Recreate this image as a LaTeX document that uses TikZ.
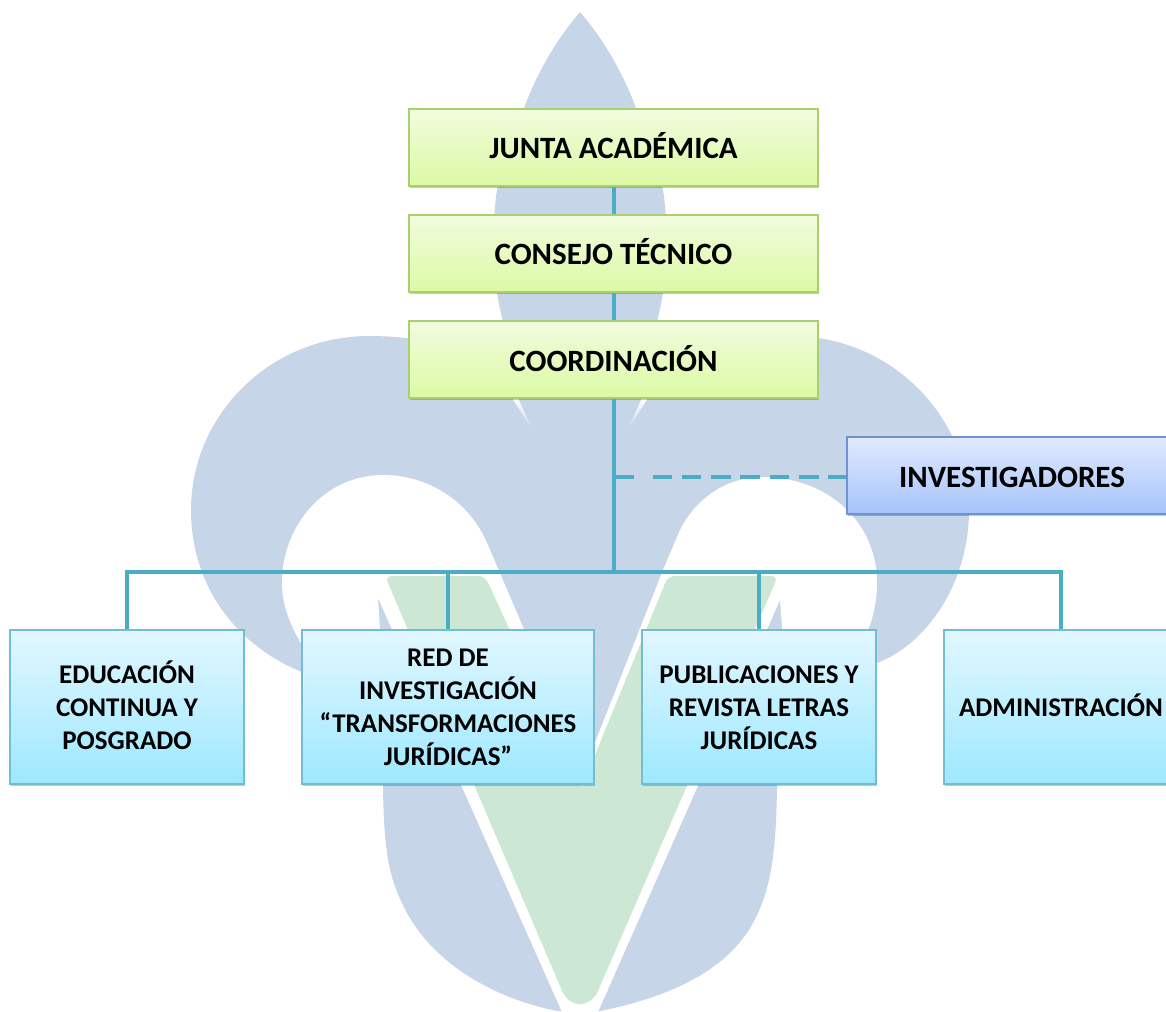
\documentclass[tikz,border=0pt]{standalone}
\usepackage{fontspec}
\setmainfont{Carlito}
\usetikzlibrary{shadows,calc}
\definecolor{logoblue}{RGB}{199,213,232}
\definecolor{logogreen}{RGB}{204,231,212}
\definecolor{linkcol}{RGB}{75,172,198}
\newcommand{\lowadj}[1]{\rule[-#1pt]{0pt}{#1pt}}
\newcommand{\highadj}[1]{\rule{0pt}{#1pt}}
\tikzset{
  box/.style={rectangle,draw,line width=1.3pt,inner sep=0pt,align=center,font=\bfseries,text=black,
    drop shadow={shadow xshift=0.5pt,shadow yshift=-2pt,opacity=.22,fill=black}},
  topbox/.style={box,minimum width=409pt,minimum height=77pt,draw={rgb,255:red,170;green,207;blue,112},
    top color={rgb,255:red,241;green,252;blue,222},bottom color={rgb,255:red,220;green,249;blue,165},
    font=\bfseries\fontsize{31}{33}\selectfont},
  sidebox/.style={box,minimum width=330pt,minimum height=77pt,draw={rgb,255:red,110;green,147;blue,207},
    top color={rgb,255:red,225;green,234;blue,254},bottom color={rgb,255:red,165;green,195;blue,250},
    font=\bfseries\fontsize{31}{33}\selectfont},
  lowbox/.style={box,minimum height=154pt,draw={rgb,255:red,113;green,189;blue,209},
    top color={rgb,255:red,226;green,247;blue,255},bottom color={rgb,255:red,157;green,232;blue,255},
    font=\bfseries\fontsize{27}{33}\selectfont},
  link/.style={draw=linkcol,line width=4pt},
  dashlink/.style={link,dash pattern=on 20pt off 19pt on 19.5pt off 9.8pt on 19.5pt off 9.8pt on 19.5pt off 9.8pt on 19.5pt off 9.8pt on 19.5pt off 9.8pt on 19.5pt off 9.8pt on 19.5pt off 9.8pt}
}
\begin{document}
\begin{tikzpicture}[x=1pt,y=-1pt]
\useasboundingbox (0,0) rectangle (1166,1011);
\clip (0,0) rectangle (1166,1011);
% logo silhouette
\fill[logoblue] (580,12)
  .. controls (606,42) and (625,78) .. (636,108)
  .. controls (652,145) and (665,175) .. (666,225)
  .. controls (667,270) and (665,300) .. (650,345)
  -- (720,345)
  .. controls (740,338) and (770,336) .. (791,336)
  .. controls (890,336) and (969,415) .. (969,510)
  .. controls (969,585) and (925,645) .. (877,663)
  -- (777,700) -- (777,787)
  .. controls (776,850) and (772,888) .. (753,923)
  .. controls (730,965) and (680,995) .. (600,1011)
  -- (557,1011)
  .. controls (480,995) and (430,955) .. (407,913)
  .. controls (388,878) and (384,850) .. (383,787)
  -- (383,700) -- (302,672)
  .. controls (235,645) and (191,585) .. (191,510)
  .. controls (191,415) and (270,336) .. (369,336)
  .. controls (390,336) and (420,338) .. (440,345)
  -- (510,345)
  .. controls (495,300) and (493,270) .. (494,225)
  .. controls (495,175) and (508,145) .. (524,108)
  .. controls (535,78) and (554,42) .. (580,12) -- cycle;
% white holes and V band
\fill[white] (378,598) -- (562,1012) -- (598,1012) -- (780,600) -- (783,640) -- (783,690)
  -- (830,680) .. controls (860,660) and (877,620) .. (877,583)
  .. controls (877,520) and (825,477) .. (763,477)
  .. controls (725,477) and (695,500) .. (680,530)
  -- (663,570) -- (585,768) -- (523,627) -- (487,543)
  .. controls (470,503) and (430,475) .. (383,475)
  .. controls (325,475) and (282,525) .. (282,583)
  .. controls (282,605) and (290,625) .. (302,645)
  -- (340,690) -- (381,690) -- (380,630) -- cycle;
% slits
\shade[top color=white,bottom color=logoblue] (512,398) -- (518,398) -- (533,431) -- cycle;
\shade[top color=white,bottom color=logoblue] (648,398) -- (642,398) -- (627,431) -- cycle;
% green V
\fill[logogreen] (430,576) [rounded corners=7pt] -- (485,576) [sharp corners] -- (582,787)
  [rounded corners=7pt] -- (668,576) -- (778,576) [sharp corners] -- (597,993)
  .. controls (588,1008) and (572,1008) .. (563,993)
  [rounded corners=7pt] -- (385,576) [sharp corners] -- cycle;
% nodes
\node[topbox] (junta) at (613.5,147.5) {JUNTA ACADÉMICA\lowadj{4}};
\node[topbox] (consejo) at (613.5,253.5) {CONSEJO TÉCNICO\lowadj{4}};
\node[topbox] (coord) at (613.5,359.5) {COORDINACIÓN\lowadj{3}};
\node[sidebox] (inv) at (1012,475.5) {\highadj{24}INVESTIGADORES};
\node[lowbox,minimum width=234pt] (edu) at (127,707) {EDUCACIÓN\\CONTINUA Y\\POSGRADO\lowadj{4}};
\node[lowbox,minimum width=292pt] (red) at (448,707) {RED DE\\INVESTIGACIÓN\\“TRANSFORMACIONES\\JURÍDICAS”};
\node[lowbox,minimum width=234pt] (pub) at (759,707) {\highadj{20}PUBLICACIONES Y\\REVISTA LETRAS\\JURÍDICAS};
\node[lowbox,minimum width=234pt] (adm) at (1061,707) {ADMINISTRACIÓN\lowadj{4}};
% connectors
\coordinate (hub) at (613.5,572);
\coordinate (tee) at (613.5,477);
\draw[link] (junta) -- (consejo);
\draw[link] (consejo) -- (coord);
\draw[link] (coord) -- (hub);
\draw[dashlink] (tee) -- (inv.west |- tee);
\draw[link] (edu.north) |- (adm.north |- hub) -- (adm.north);
\draw[link] (hub -| red.north) -- (red.north);
\draw[link] (hub -| pub.north) -- (pub.north);
\end{tikzpicture}
\end{document}
